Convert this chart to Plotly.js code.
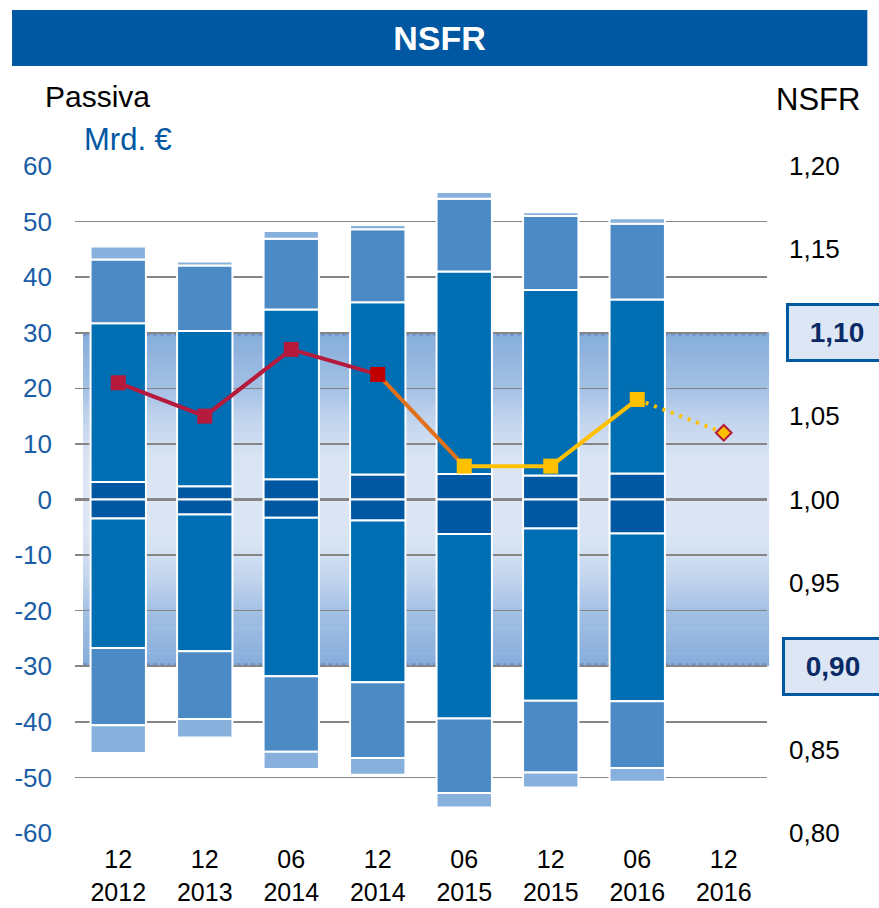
<!DOCTYPE html>
<html>
<head>
<meta charset="utf-8">
<script src="https://cdn.plot.ly/plotly-3.0.1.min.js"></script>
<style>
html,body{margin:0;padding:0;background:#fff;}
#chart{width:879px;height:908px;}
</style>
</head>
<body>
<div id="chart"></div>
<script>
// ---- Data ----
var categories = ["12<br>2012","12<br>2013","06<br>2014","12<br>2014","06<br>2015","12<br>2015","06<br>2016","12<br>2016"];
var barCategories = categories.slice(0, 7);

// Positive side (stacked from zero outward)
var posDark     = [3.15, 2.4, 3.65, 4.5, 4.6, 4.3, 4.7];
var posMain     = [28.55, 27.9, 30.55, 31.0, 36.4, 33.4, 31.3];
var posLight    = [11.5, 11.8, 12.7, 13.1, 13.1, 13.3, 13.6];
var posLightest = [2.3, 0.7, 1.4, 0.8, 1.2, 0.7, 1.0];

// Negative side (stacked from zero outward)
var negDark     = [-3.4, -2.7, -3.3, -3.8, -6.2, -5.2, -6.1];
var negMain     = [-23.3, -24.6, -28.5, -29.1, -33.2, -31.0, -30.2];
var negLight    = [-13.9, -12.2, -13.6, -13.6, -13.4, -12.9, -12.0];
var negLightest = [-5.0, -3.3, -3.1, -3.0, -2.6, -2.7, -2.5];

// NSFR ratio (right axis)
var nsfr = [1.070, 1.050, 1.090, 1.075, 1.020, 1.020, 1.060, 1.040];

// Tick labels
var leftTickVals  = [60, 50, 40, 30, 20, 10, 0, -10, -20, -30, -40, -50, -60];
var leftTickText  = ["60","50","40","30","20","10","0","-10","-20","-30","-40","-50","-60"];
var rightTickVals = [1.20, 1.15, 1.10, 1.05, 1.00, 0.95, 0.90, 0.85, 0.80];
var rightTickText = ["1,20","1,15","","1,05","1,00","0,95","","0,85","0,80"];
var boxedVals     = [1.10, 0.90];
var boxedText     = ["1,10", "0,90"];

// ---- Styles ----
var FONT = "Liberation Sans, Arial, sans-serif";
var cDark = "#0057A2", cMain = "#006EB3", cLight = "#4C8AC6", cLightest = "#88B0DC";
var crimson = "#B5193B", red = "#C00000", yellow = "#FFC000", orange = "#E0701A";
var blue = "#0057A2";

function barTrace(y, color) {
  return {
    type: "bar", x: barCategories, y: y, xaxis: "x", yaxis: "y",
    marker: {color: color, line: {color: "#ffffff", width: 2}},
    hoverinfo: "skip", showlegend: false
  };
}

var traces = [
  barTrace(posDark, cDark), barTrace(posMain, cMain), barTrace(posLight, cLight), barTrace(posLightest, cLightest),
  barTrace(negDark, cDark), barTrace(negMain, cMain), barTrace(negLight, cLight), barTrace(negLightest, cLightest)
];

// transition segment
traces.push({
  type: "scatter", mode: "lines", x: categories.slice(3, 5), y: nsfr.slice(3, 5),
  xaxis: "x", yaxis: "y2", line: {color: orange, width: 4}, hoverinfo: "skip", showlegend: false
});
// dotted forecast
traces.push({
  type: "scatter", mode: "lines", x: categories.slice(6, 8), y: nsfr.slice(6, 8),
  xaxis: "x", yaxis: "y2", line: {color: yellow, width: 4, dash: "3px,6px"}, hoverinfo: "skip", showlegend: false
});
// crimson part
traces.push({
  type: "scatter", mode: "lines+markers", x: categories.slice(0, 4), y: nsfr.slice(0, 4),
  xaxis: "x", yaxis: "y2", line: {color: crimson, width: 4},
  marker: {symbol: "square", size: 15, color: [crimson, crimson, crimson, red]},
  hoverinfo: "skip", showlegend: false
});
// yellow part
traces.push({
  type: "scatter", mode: "lines+markers", x: categories.slice(4, 7), y: nsfr.slice(4, 7),
  xaxis: "x", yaxis: "y2", line: {color: yellow, width: 4},
  marker: {symbol: "square", size: 15, color: yellow},
  hoverinfo: "skip", showlegend: false
});
// forecast marker
traces.push({
  type: "scatter", mode: "markers", x: categories.slice(7, 8), y: nsfr.slice(7, 8),
  xaxis: "x", yaxis: "y2",
  marker: {symbol: "diamond", size: 12, color: yellow, line: {color: crimson, width: 2}},
  hoverinfo: "skip", showlegend: false
});

// ---- Gradient band (style) ----
var shapes = [];
shapes.push({type: "rect", xref: "paper", yref: "paper", x0: -0.091, x1: 1.145, y0: 1.15, y1: 1.234,
  fillcolor: blue, line: {width: 0}, layer: "above"});
function mix(a, b, t) {
  var pa = [parseInt(a.substr(1,2),16), parseInt(a.substr(3,2),16), parseInt(a.substr(5,2),16)];
  var pb = [parseInt(b.substr(1,2),16), parseInt(b.substr(3,2),16), parseInt(b.substr(5,2),16)];
  return "rgb(" + pa.map(function(v, i){ return Math.round(v + (pb[i]-v)*t); }).join(",") + ")";
}
var stops = [[0, "#DCE6F5"], [8, "#D8E3F4"], [15, "#BFD2EC"], [20, "#A3C0E4"], [30, "#86ADDB"]];
function bandColor(d) {
  for (var i = 1; i < stops.length; i++) {
    if (d <= stops[i][0]) {
      var t = (d - stops[i-1][0]) / (stops[i][0] - stops[i-1][0]);
      return mix(stops[i-1][1], stops[i][1], t);
    }
  }
  return stops[stops.length-1][1];
}
var nSlices = 80;
for (var k = 0; k < nSlices; k++) {
  var y0 = -30 + 60 * k / nSlices, y1 = -30 + 60 * (k + 1) / nSlices;
  var mid = Math.abs((y0 + y1) / 2);
  shapes.push({type: "rect", xref: "paper", yref: "y", x0: 0.0116, x1: 1.003, y0: y0, y1: y1 + 0.1,
    fillcolor: bandColor(mid), line: {width: 0}, layer: "below"});
}
[30, -30].forEach(function(v){
  shapes.push({type: "line", xref: "paper", yref: "y", x0: 0.0116, x1: 1.003, y0: v - 0.35 * Math.sign(v), y1: v - 0.35 * Math.sign(v),
    line: {color: "#6F93C9", width: 2, dash: "4px,3px"}, layer: "between"});
});

var annotations = [
  {xref: "paper", yref: "paper", x: -0.0465, y: 1.1035, xanchor: "left", yanchor: "middle", showarrow: false,
   text: "Passiva", font: {family: FONT, size: 30, color: "#000"}},
  {xref: "paper", yref: "paper", x: 0.0101, y: 1.039, xanchor: "left", yanchor: "middle", showarrow: false,
   text: "Mrd. €", font: {family: FONT, size: 31, color: blue}},
  {xref: "paper", yref: "paper", x: 1.1373, y: 1.099, xanchor: "right", yanchor: "middle", showarrow: false,
   text: "NSFR", font: {family: FONT, size: 31, color: "#000"}}
];
var boxLeft = [1.0275, 1.0217];
boxedVals.forEach(function(v, i){
  annotations.push({xref: "paper", yref: "y2", x: boxLeft[i], y: v, xanchor: "left", yanchor: "middle",
    showarrow: false, text: "<b>" + boxedText[i] + "</b>",
    font: {family: FONT, size: 28, color: "#0A2A66"},
    bgcolor: "#DCE6F5", bordercolor: blue, borderwidth: 3, borderpad: 2, width: 92, height: 49, align: "center"});
});

var layout = {
  width: 879, height: 908,
  margin: {l: 75, r: 112, t: 166, b: 75},
  paper_bgcolor: "#ffffff", plot_bgcolor: "rgba(0,0,0,0)",
  title: {text: "<b>NSFR</b>", font: {family: FONT, size: 34, color: "#ffffff"},
    x: 0.5, xref: "container", xanchor: "center", y: 0.958, yref: "container", yanchor: "middle"},
  barmode: "relative", bargap: 0.36,
  showlegend: false,
  xaxis: {type: "category", categoryorder: "array", categoryarray: categories, range: [-0.5, 7.5],
    showgrid: false, zeroline: false, showline: false, ticks: "", ticklabelstandoff: 9,
    tickfont: {family: FONT, size: 25, color: "#000"}},
  yaxis: {range: [-60, 60], tickvals: leftTickVals, ticktext: leftTickText,
    showgrid: true, gridcolor: "#858585", gridwidth: 1.6,
    zeroline: true, zerolinecolor: "#858585", zerolinewidth: 3.5,
    showline: false, ticks: "", ticklabelstandoff: 22,
    tickfont: {family: FONT, size: 26, color: "#1A5DA6"}},
  yaxis2: {range: [0.80, 1.20], overlaying: "y", side: "right", tickvals: rightTickVals, ticktext: rightTickText,
    showgrid: false, zeroline: false, showline: false, ticks: "", ticklabelstandoff: 21,
    tickfont: {family: FONT, size: 26, color: "#000"}},
  shapes: shapes,
  annotations: annotations
};

Plotly.newPlot("chart", traces, layout, {displayModeBar: false, staticPlot: true});
</script>
</body>
</html>
